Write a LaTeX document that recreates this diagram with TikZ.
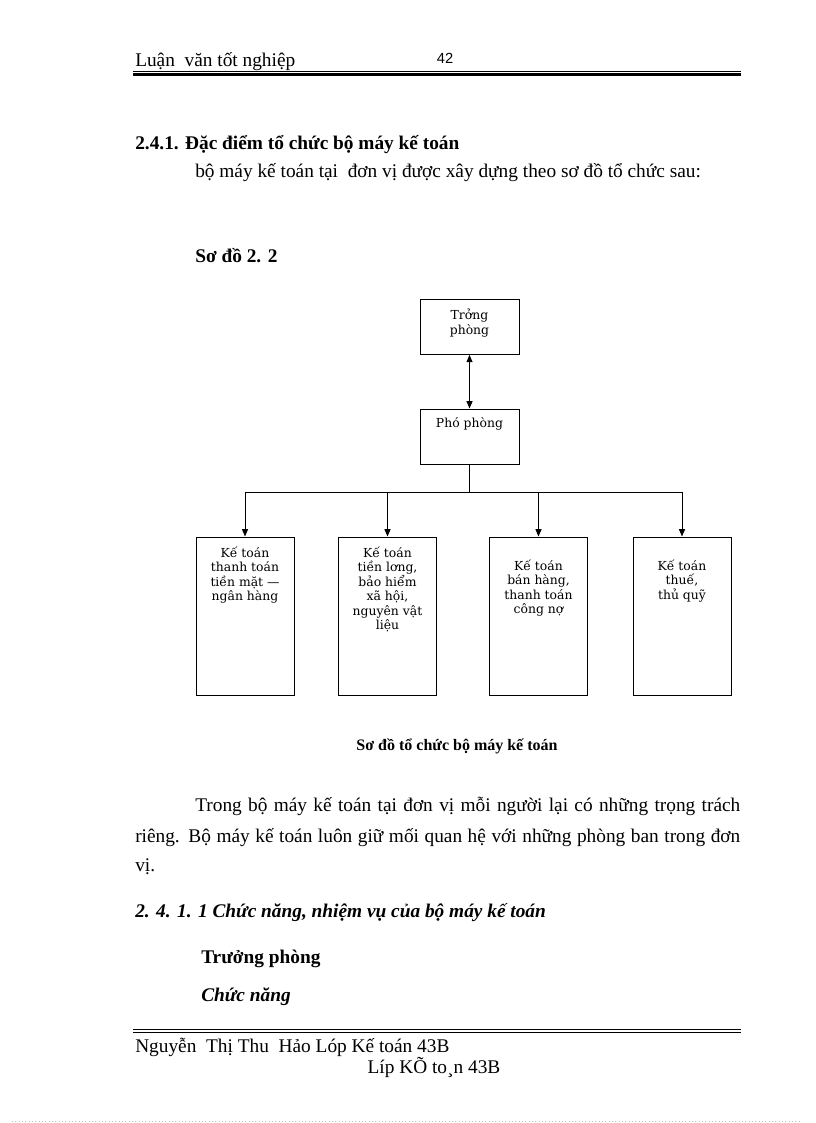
\documentclass[tikz,border=0pt]{standalone}
\usepackage{fontspec}
\setmainfont{Liberation Serif}
\newfontfamily\boxfont{DejaVu Serif}
\newfontfamily\numfont{Liberation Sans}
\usetikzlibrary{arrows.meta,calc}
\begin{document}
\begin{tikzpicture}[x=0.75pt,y=-0.75pt,
  txt/.style={inner sep=0pt, anchor=mid west, yshift=-2pt, font=\fontsize{14.5}{16}\selectfont},
  boldtxt/.style={txt, font=\fontsize{14.5}{16}\selectfont\bfseries},
  bitxt/.style={txt, font=\fontsize{14.5}{16}\selectfont\bfseries\itshape},
  smallbox/.style={draw, line width=0.75pt, minimum width=74.25pt, minimum height=41pt, inner sep=0pt},
  tallbox/.style={draw, line width=0.75pt, minimum width=73.5pt, minimum height=118.5pt, inner sep=0pt},
  boxtext/.style={inner sep=0pt, anchor=north, align=center, font=\boxfont\fontsize{9.3}{10.9}\selectfont},
  conn/.style={line width=0.75pt},
  tip/.tip={Triangle[length=5.5pt,width=4.5pt]},
  arr/.style={conn, -tip},
  rule/.style={line width=#1}
]
\useasboundingbox (0,0) rectangle (816,1123);
\fill[white] (0,0) rectangle (816,1123);

% header
\node[txt] (hdr) at (135,61) {Luận\ \ văn tốt nghiệp};
\node[inner sep=0pt, font=\numfont\fontsize{11}{13}\selectfont] (pg) at (445,58) {42};
\coordinate (hl1) at (133,71.5); \coordinate (hr1) at (741,71.5);
\coordinate (hl2) at (133,74.5); \coordinate (hr2) at (741,74.5);
\draw[rule=0.6pt] (hl1) -- (hr1);
\draw[rule=1.8pt] (hl2) -- (hr2);

% headings
\node[boldtxt] (h241) at (135,144) {2.4.1. Đặc điểm tổ chức bộ máy kế toán};
\node[txt] (intro) at (195,172) {bộ máy kế toán tại\ \ đơn vị được xây dựng theo sơ đồ tổ chức sau:};
\node[boldtxt] (sodo) at (195,257) {Sơ đồ 2. 2};

% diagram
\node[smallbox] (tp) at (469.5,327) {};
\node[boxtext] (tpt) at ($(tp.north)+(0,9.5)$) {Trởng\\phòng};
\node[smallbox, minimum height=41.25pt] (pp) at (469.5,436.5) {};
\node[boxtext] (ppt) at ($(pp.north)+(0,9)$) {Phó phòng};
\draw[conn, tip-tip] (tp.south) -- (pp.north);

\node[tallbox] (b1) at (245,616) {};
\node[tallbox] (b2) at (387.5,616) {};
\node[tallbox] (b3) at (538.5,616) {};
\node[tallbox] (b4) at (682,616) {};
\node[boxtext] (t1) at ($(b1.north)+(0,10)$) {Kế toán\\thanh toán\\tiền mặt —\\ngân hàng};
\node[boxtext] (t2) at ($(b2.north)+(0,10)$) {Kế toán\\tiền lơng,\\bảo hiểm\\xã hội,\\nguyên vật\\liệu};
\node[boxtext] (t3) at ($(b3.north)+(0,23)$) {Kế toán\\bán hàng,\\thanh toán\\công nợ};
\node[boxtext] (t4) at ($(b4.north)+(0,23)$) {Kế toán\\thuế,\\thủ quỹ};

\coordinate (hub) at ($(pp.south)+(0,28)$);
\draw[conn] (pp.south) -- (hub);
\draw[arr] (hub) -| (b1.north);
\draw[arr] (hub) -| (b2.north);
\draw[arr] (hub) -| (b3.north);
\draw[arr] (hub) -| (b4.north);

\node[inner sep=0pt, yshift=-1pt, font=\fontsize{12}{14}\selectfont\bfseries] (cap) at (457,745) {Sơ đồ tổ chức bộ máy kế toán};

% paragraph
\node[txt] (p1) at (195,806) {\makebox[408.75pt][s]{Trong bộ máy kế toán tại đơn vị mỗi người lại\ có những trọng trách}};
\node[txt] (p2) at (135,837) {\makebox[453.75pt][s]{riêng. Bộ máy kế toán luôn giữ mối quan hệ với những phòng ban trong đơn}};
\node[txt] (p3) at (135,866) {vị.};

\node[bitxt] (h2411) at (135,912) {2. 4. 1. 1 Chức năng, nhiệm vụ của bộ máy kế toán};
\node[boldtxt] (truong) at (201,958) {Trưởng phòng};
\node[bitxt] (chucnang) at (201,996) {Chức năng};

% footer
\coordinate (fl1) at (133,1029); \coordinate (fr1) at (741,1029);
\coordinate (fl2) at (133,1032.5); \coordinate (fr2) at (741,1032.5);
\draw[rule=0.6pt] (fl1) -- (fr1);
\draw[rule=1pt] (fl2) -- (fr2);
\node[txt] (f1) at (135,1047) {Nguyễn\ \ Thị Thu\ \ Hảo Lóp Kế toán 43B};
\node[inner sep=0pt, yshift=-2pt, font=\fontsize{14.5}{16}\selectfont] (f2) at (434,1065) {Líp KÕ to¸n 43B};

\coordinate (dl) at (12,1121); \coordinate (dr) at (800,1121);
\draw[black!25, dotted, line width=0.5pt] (dl) -- (dr);
\end{tikzpicture}
\end{document}
